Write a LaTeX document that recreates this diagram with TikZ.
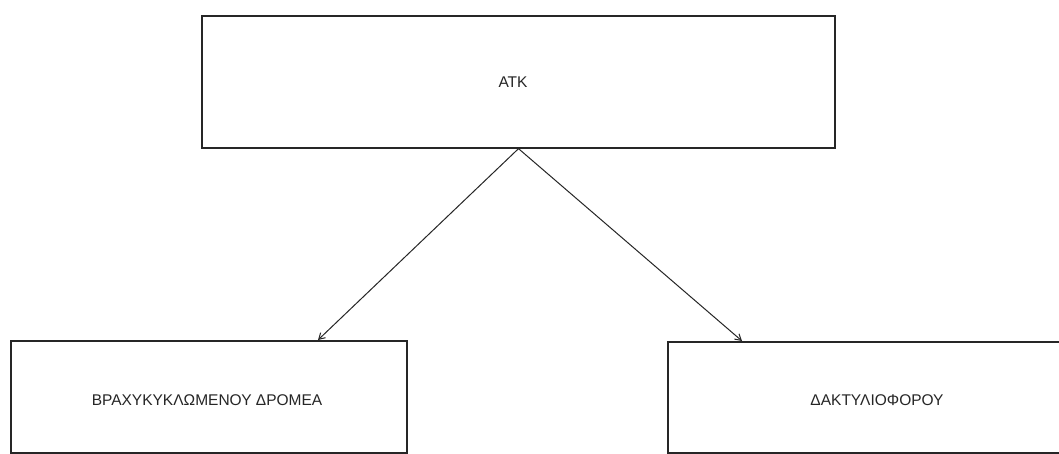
\documentclass[tikz,border=0pt]{standalone}
\usepackage{fontspec}
\setmainfont{Liberation Sans}
\usetikzlibrary{arrows.meta}
\definecolor{ink}{HTML}{262626}
\definecolor{txt}{HTML}{262626}
\tikzset{
  box/.style={draw=ink, line width=1.3pt, fill=white, inner sep=0pt, rectangle},
  label/.style={text=txt, font=\fontsize{15.5}{18}\selectfont, inner sep=0pt},
  link/.style={draw=ink, line width=1pt, -{Straight Barb[length=6pt,width=7pt,line width=1pt]}}
}
\begin{document}
\begin{tikzpicture}[x=1pt, y=-1pt]
  \fill[white] (0,0) rectangle (1059,454);
  \useasboundingbox (0,0) rectangle (1059,454);

  % top box
  \node[box, minimum width=633pt, minimum height=132pt] (atk) at (518.5,82) {};
  \node[label] (atktext) at (513,82) {ΑΤΚ};

  % lower boxes (running off the page edges)
  \node[box, minimum width=396pt, minimum height=112pt] (rotor) at (209,397) {};
  \node[label] (rotortext) at (207,400) {ΒΡΑΧΥΚΥΚΛΩΜΕΝΟΥ ΔΡΟΜΕΑ};

  \node[box, minimum width=400pt, minimum height=111pt] (ring) at (868,397.5) {};
  \node[label] (ringtext) at (877,400) {ΔΑΚΤΥΛΙΟΦΟΡΟΥ};

  % arrow tips on the lower boxes
  \coordinate (ltip) at (318,340);
  \coordinate (rtip) at (742,341);

  \draw[link] (atk.south) -- (ltip);
  \draw[link] (atk.south) -- (rtip);
\end{tikzpicture}
\end{document}
